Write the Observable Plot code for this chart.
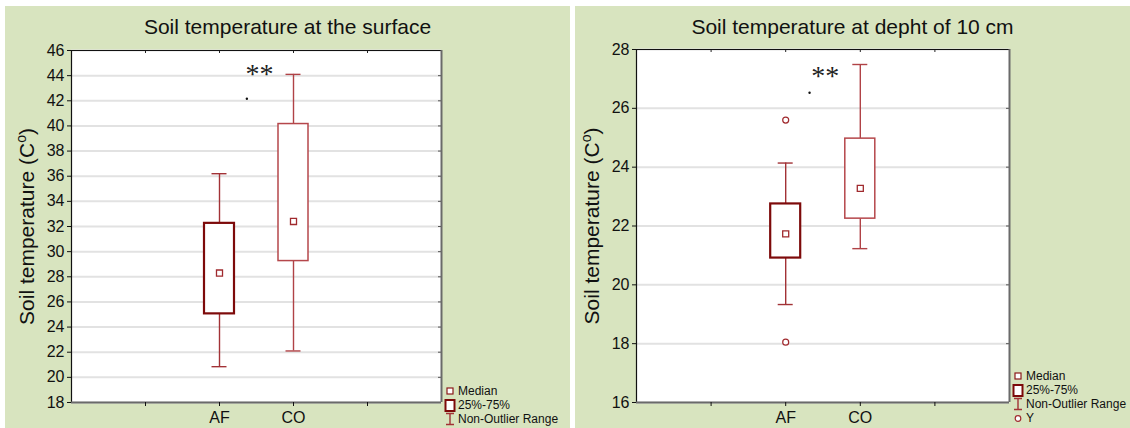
<!DOCTYPE html>
<html>
<head>
<meta charset="utf-8">
<script src="https://cdn.jsdelivr.net/npm/d3@7"></script>
<script src="https://cdn.jsdelivr.net/npm/@observablehq/plot@0.6"></script>
<style>
  html, body { margin: 0; padding: 0; background: #ffffff; }
  body { width: 1130px; height: 428px; position: relative; overflow: hidden; font-family: "Liberation Sans", Arial, sans-serif; }
  .panel { position: absolute; background: #d8e4bf; }
  .title { height: 36px; box-sizing: border-box; padding-top: 10px; font-size: 21px; line-height: 21px; text-align: center; color: #111; white-space: nowrap; }
  .panel svg { display: block; }
  .legend { position: absolute; font-size: 12px; line-height: 14px; color: #111; }
  .legend .row { display: flex; align-items: center; height: 14px; white-space: nowrap; }
  .legend .row svg { margin-right: 2px; }
</style>
</head>
<body>
<script>
// ---------- data ----------
const categories = ["AF", "CO"];

const surfaceMin    = [20.85, 22.1];
const surfaceQ1     = [25.05, 29.25];
const surfaceMedian = [28.3, 32.4];
const surfaceQ3     = [32.25, 40.15];
const surfaceMax    = [36.2, 44.1];

const depthMin    = [19.33, 21.23];
const depthQ1     = [20.91, 22.25];
const depthMedian = [21.73, 23.28];
const depthQ3     = [22.75, 24.97];
const depthMax    = [24.14, 27.49];
const depthOutlierCategory = ["AF", "AF"];
const depthOutlierValue    = [25.6, 18.05];

const surfaceTicks = [18, 20, 22, 24, 26, 28, 30, 32, 34, 36, 38, 40, 42, 44, 46];
const depthTicks   = [16, 18, 20, 22, 24, 26, 28];

const titles = ["Soil temperature at the surface", "Soil temperature at depht of 10 cm"];
const yLabelMain = "Soil temperature (C";
const yLabelSup = "o";
const sigLabel = "**";
// significance annotation (slot units on x, data units on y)
const surfaceSig = { x: 2.54, y: 44.1, dotX: 2.37, dotY: 42.16 };
const depthSig   = { x: 2.53, y: 27.1, dotX: 2.32, dotY: 26.53 };

const legendSurface = ["Median", "25%-75%", "Non-Outlier Range"];
const legendDepth   = ["Median", "25%-75%", "Non-Outlier Range", "Y"];

// ---------- styles ----------
const catStyle = [
  { box: "#7d0a0a", boxWidth: 2.2, whisker: "#a23236" },
  { box: "#b5474b", boxWidth: 1.5, whisker: "#b04246" }
];
const medianColor = "#a02a2e";

const legendIcons = {
  "Median": `<rect x="3" y="4" width="6" height="6" fill="white" stroke="#8b1a1a" stroke-width="1.2"/>`,
  "25%-75%": `<rect x="1.5" y="2" width="9" height="11" fill="white" stroke="#7d0a0a" stroke-width="2"/>`,
  "Non-Outlier Range": `<path d="M2,1.5H10M6,1.5V12.5M2,12.5H10" fill="none" stroke="#a23236" stroke-width="1.4"/>`,
  "Y": `<circle cx="6" cy="7.5" r="2.8" fill="white" stroke="#a02a2e" stroke-width="1.2"/>`
};

function makePanel(cfg) {
  const el = document.createElement("div");
  el.className = "panel";
  Object.assign(el.style, { left: cfg.left + "px", top: cfg.top + "px", width: cfg.width + "px", height: cfg.height + "px" });
  const t = document.createElement("div");
  t.className = "title";
  t.textContent = cfg.title;
  el.appendChild(t);

  const svgH = cfg.height - 36;
  const n = categories.length;
  const xMax = n + 3;
  const idx = d3.range(n);
  const pos = i => i + 2;
  const slotTicks = d3.range(1, n + 3);
  const [yMin, yMax] = [d3.min(cfg.ticks), d3.max(cfg.ticks)];
  const plotW = cfg.width - cfg.ml - cfg.mr;
  const plotH = svgH - cfg.mt - cfg.mb;
  const yPerPx = (yMax - yMin) / plotH;
  const xPerPx = xMax / plotW;
  const boxHalf = 15 * xPerPx;
  const capHalf = 7.5 * xPerPx;

  const marks = [
    Plot.frame({ fill: "white", stroke: null }),
    Plot.gridY(cfg.ticks, { stroke: "#e2e2e2", strokeOpacity: 1, strokeWidth: 2 }),
    Plot.ruleX(slotTicks, { x: d => d, y1: yMax, y2: yMax - 3 * yPerPx, stroke: "#222" }),
    Plot.ruleY(cfg.ticks, { y: d => d, x1: xMax - 3 * xPerPx, x2: xMax, stroke: "#555" }),
    Plot.ruleY([yMax], { stroke: "#111", strokeWidth: 1.2 }),
    Plot.ruleX([0], { stroke: "#111", strokeWidth: 1.2 }),
    Plot.ruleY([yMin], { stroke: "#6a6a6a", strokeWidth: 2 }),
    Plot.ruleX([xMax], { stroke: "#6a6a6a", strokeWidth: 2 }),
    Plot.axisY({ ticks: cfg.ticks, tickSize: 4, tickPadding: 3, fontSize: 16, label: "Y_LABEL", labelAnchor: "center", labelArrow: "none", labelOffset: cfg.labelOffset }),
    Plot.axisX({ ticks: slotTicks, tickSize: 4, tickPadding: 5, fontSize: 16, tickFormat: d => categories[d - 2] ?? "", label: null })
  ];
  idx.forEach(i => {
    const s = catStyle[i];
    const one = [i];
    marks.push(
      Plot.ruleX(one, { x: pos, y1: j => cfg.q3[j], y2: j => cfg.max[j], stroke: s.whisker, strokeWidth: 1.4 }),
      Plot.ruleX(one, { x: pos, y1: j => cfg.q1[j], y2: j => cfg.min[j], stroke: s.whisker, strokeWidth: 1.4 }),
      Plot.ruleY(one, { y: j => cfg.max[j], x1: j => pos(j) - capHalf, x2: j => pos(j) + capHalf, stroke: s.whisker, strokeWidth: 1.4 }),
      Plot.ruleY(one, { y: j => cfg.min[j], x1: j => pos(j) - capHalf, x2: j => pos(j) + capHalf, stroke: s.whisker, strokeWidth: 1.4 }),
      Plot.rect(one, { x1: j => pos(j) - boxHalf, x2: j => pos(j) + boxHalf, y1: j => cfg.q1[j], y2: j => cfg.q3[j], fill: "white", stroke: s.box, strokeWidth: s.boxWidth })
    );
  });
  marks.push(
    Plot.dot(idx, { x: pos, y: i => cfg.median[i], symbol: "square", r: 3.4, fill: "white", stroke: medianColor, strokeWidth: 1.3 })
  );
  if (cfg.outlierValue) {
    marks.push(Plot.dot(cfg.outlierValue, { x: (d, i) => pos(categories.indexOf(cfg.outlierCategory[i])), y: d => d, r: 3, fill: "white", stroke: medianColor, strokeWidth: 1.2 }));
  }
  marks.push(
    Plot.text([cfg.sig], { x: "x", y: "y", text: () => sigLabel, fontFamily: "Liberation Serif, Times New Roman, serif", fontSize: 28, fill: "#222" }),
    Plot.dot([cfg.sig], { x: "dotX", y: "dotY", r: 1.2, fill: "#111", stroke: null })
  );

  const svg = Plot.plot({
    width: cfg.width,
    height: svgH,
    marginLeft: cfg.ml, marginRight: cfg.mr, marginTop: cfg.mt, marginBottom: cfg.mb,
    x: { domain: [0, xMax] },
    y: { domain: [yMin, yMax] },
    style: { background: "transparent", fontFamily: "Liberation Sans, Arial, sans-serif", fontSize: "16px", color: "#111", overflow: "visible" },
    marks
  });
  // y-axis label with superscript
  const lab = svg.querySelector('[aria-label="y-axis label"]');
  if (lab) {
    lab.setAttribute("font-size", "21");
    const txt = lab.querySelector("text");
    if (txt) {
      txt.textContent = "";
      const a = document.createElementNS("http://www.w3.org/2000/svg", "tspan");
      a.textContent = yLabelMain;
      const b = document.createElementNS("http://www.w3.org/2000/svg", "tspan");
      b.textContent = yLabelSup; b.setAttribute("font-size", "14"); b.setAttribute("dy", "-8");
      const c = document.createElementNS("http://www.w3.org/2000/svg", "tspan");
      c.textContent = ")"; c.setAttribute("dy", "8");
      txt.append(a, b, c);
    }
  }
  el.appendChild(svg);

  const lg = document.createElement("div");
  lg.className = "legend";
  Object.assign(lg.style, { left: cfg.legendLeft + "px", top: cfg.legendTop + "px" });
  cfg.legend.forEach(name => {
    const row = document.createElement("div");
    row.className = "row";
    row.innerHTML = `<svg width="12" height="14">${legendIcons[name]}</svg><span>${name}</span>`;
    lg.appendChild(row);
  });
  el.appendChild(lg);
  document.body.appendChild(el);
}

makePanel({
  left: 5, top: 6, width: 565, height: 422, title: titles[0],
  ml: 66, mr: 129, mt: 8, mb: 26, labelOffset: 52,
  ticks: surfaceTicks, min: surfaceMin, q1: surfaceQ1, median: surfaceMedian, q3: surfaceQ3, max: surfaceMax,
  sig: surfaceSig, legend: legendSurface, legendLeft: 439, legendTop: 378
});
makePanel({
  left: 575, top: 6, width: 555, height: 422, title: titles[1],
  ml: 61, mr: 121, mt: 7, mb: 26, labelOffset: 52,
  ticks: depthTicks, min: depthMin, q1: depthQ1, median: depthMedian, q3: depthQ3, max: depthMax,
  outlierCategory: depthOutlierCategory, outlierValue: depthOutlierValue,
  sig: depthSig, legend: legendDepth, legendLeft: 437, legendTop: 363
});
</script>
</body>
</html>
